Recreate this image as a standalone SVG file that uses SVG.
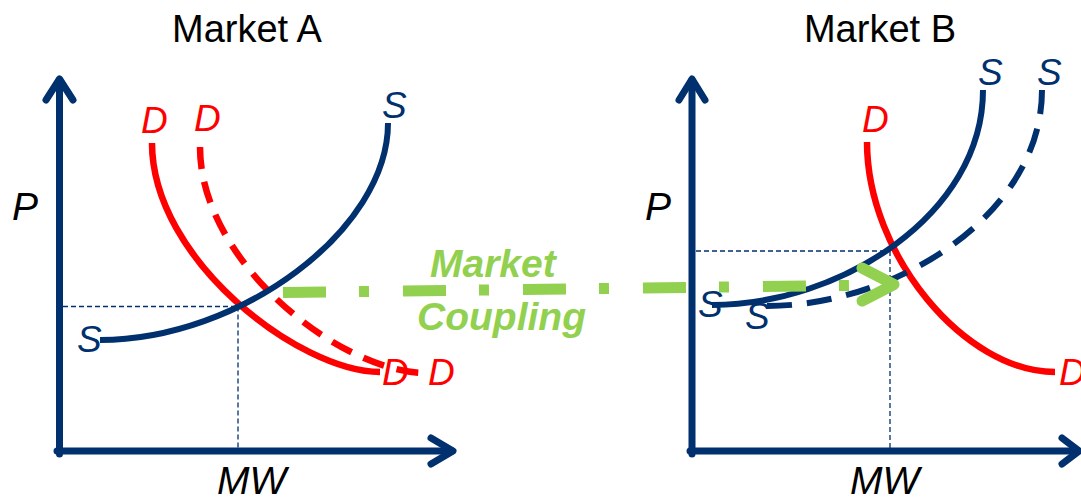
<svg xmlns="http://www.w3.org/2000/svg" width="1081" height="500" viewBox="0 0 1081 500">
<style>
.axis{stroke:#00306E;stroke-width:7;fill:none;stroke-linecap:round;stroke-linejoin:round}
.guide{stroke:#00306E;stroke-width:1.3;stroke-dasharray:5 3;fill:none}
.supply{stroke:#00306E;stroke-width:6;fill:none}
.dsh-s{stroke-dasharray:25 15}
.demand{stroke:#FF0000;stroke-width:6.5;fill:none}
.dsh-d{stroke-dasharray:22 13}
.title{font-family:"Liberation Sans",Arial,sans-serif;font-size:38px;fill:#000}
.ax{font-family:"Liberation Sans",Arial,sans-serif;font-style:italic;font-size:39px;fill:#000}
.sl{font-family:"Liberation Sans",Arial,sans-serif;font-style:italic;font-size:37px;fill:#00306E}
.dl{font-family:"Liberation Sans",Arial,sans-serif;font-style:italic;font-size:37px;fill:#FF0000}
.gl{font-family:"Liberation Sans",Arial,sans-serif;font-style:italic;font-weight:bold;font-size:39px;fill:#92D050}
.green{stroke:#92D050;stroke-width:11;fill:none}
</style>
<g id="marketA">
<text class="title" x="247" y="42" text-anchor="middle">Market A</text>
<g id="axesA">
<path class="axis" d="M59.5,454 V80"/>
<path class="axis" d="M46,100 L59.5,79 L73,100"/>
<path class="axis" d="M57,451 H452"/>
<path class="axis" d="M431,438 L453,451 L431,464"/>
<text class="ax" x="12" y="220">P</text>
<text class="ax" x="217" y="494">MW</text>
</g>
<g id="guidesA">
<path class="guide" d="M63,306.5 H238 M238,306.5 V448"/>
</g>
<g id="demandA">
<path class="demand" d="M152,143 C152,260 300,372 380,372"/>
<path class="demand dsh-d" d="M200,147 C200,262 340,373 427,373"/>
<text class="dl" x="141" y="133">D</text>
<text class="dl" x="194" y="131">D</text>
<text class="dl" x="382" y="385">D</text>
<text class="dl" x="428" y="385">D</text>
</g>
<g id="supplyA">
<path class="supply" d="M100,340 C240,340 388,230 388,123"/>
<text class="sl" x="77" y="352">S</text>
<text class="sl" x="382" y="118">S</text>
</g>
</g>
<g id="marketB">
<text class="title" x="880" y="42" text-anchor="middle">Market B</text>
<g id="axesB">
<path class="axis" d="M692,454 V80"/>
<path class="axis" d="M679,100 L692,79 L705,100"/>
<path class="axis" d="M690,451 H1078"/>
<path class="axis" d="M1062,438 L1079,451 L1062,464"/>
<text class="ax" x="645" y="220">P</text>
<text class="ax" x="850" y="494">MW</text>
</g>
<g id="guidesB">
<path class="guide" d="M696,251 H890 M890,251 V448"/>
</g>
<g id="demandB">
<path class="demand" d="M867,142 C867,255 965,372 1055,372"/>
<text class="dl" x="862" y="132">D</text>
<text class="dl" x="1059" y="385">D</text>
</g>
<g id="supplyB">
<path class="supply" d="M712,305 C840,305 983,215 983,90"/>
<path class="supply dsh-s" d="M767,306 C895,306 1042,215 1042,90"/>
<text class="sl" x="698" y="317">S</text>
<text class="sl" x="745" y="329">S</text>
<text class="sl" x="978" y="85">S</text>
<text class="sl" x="1037" y="85">S</text>
</g>
</g>
<g id="connectors">
<path class="green" stroke-dasharray="43 33 10 34" d="M283,292.5 L849,285.5"/>
<path class="green" stroke-linecap="round" stroke-linejoin="round" d="M862,268 L894,284.5 L862,301"/>
</g>
<g id="couplingLabel">
<text class="gl" x="430" y="277">Market</text>
<text class="gl" x="417" y="330">Coupling</text>
</g>
</svg>
